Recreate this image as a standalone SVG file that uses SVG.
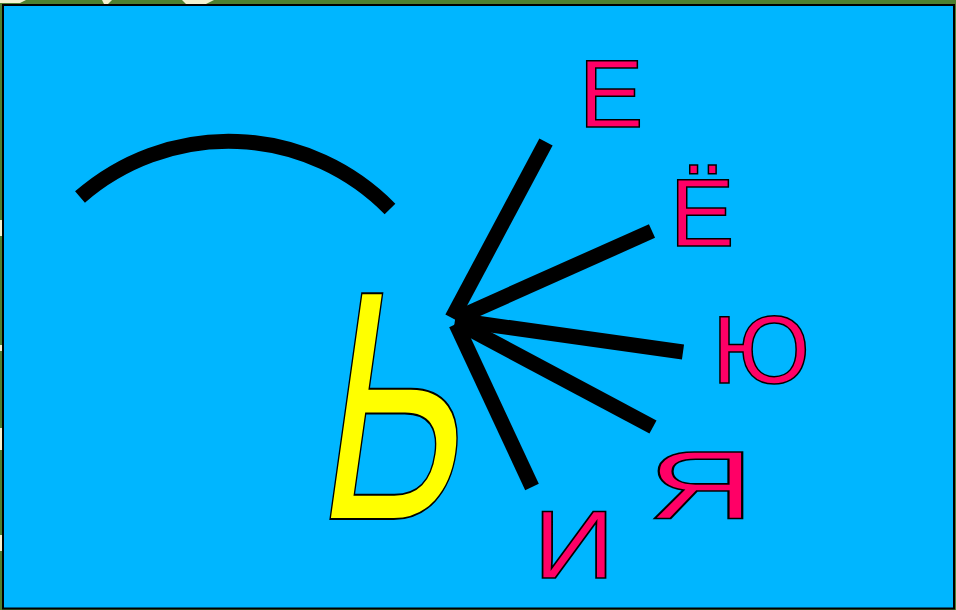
<svg xmlns="http://www.w3.org/2000/svg" width="956" height="610" viewBox="0 0 956 610">
<style>
.l{font-family:"Liberation Sans",Arial,sans-serif;fill:#FF0066;stroke:#000;stroke-width:1.5;text-anchor:middle}
.ray{stroke:#000;stroke-width:15;fill:none}
</style>
<rect x="0" y="0" width="956" height="610" fill="#4E8030"/>
<g fill="#F3F1CF">
<path d="M0,0 H26 L20,3 H0 Z"/>
<path d="M102,0 H112 L108,4 H104 Z"/>
<path d="M182,0 H214 L206,4 H186 Z"/>
<rect x="0" y="220" width="2" height="16"/>
<rect x="0" y="345" width="2" height="6"/>
<rect x="0" y="428" width="2" height="22"/>
<rect x="0" y="535" width="2" height="16"/>
</g>
<rect x="3" y="5" width="951" height="603.5" fill="#00B6FF" stroke="#000" stroke-width="2"/>
<g id="arc"><path class="ray" d="M80,197 A226 226 0 0 1 390,209"/></g>
<g id="connectors">
<line class="ray" x1="452" y1="318" x2="546" y2="142"/>
<line class="ray" x1="455" y1="319" x2="652" y2="231"/>
<line class="ray" x1="455" y1="320" x2="683" y2="352"/>
<line class="ray" x1="456" y1="322" x2="653" y2="427"/>
<line class="ray" x1="456" y1="324" x2="532" y2="487"/>
</g>
<g id="soft-sign"><text transform="translate(385,519) skewX(-8) scale(0.68,1)" x="0" y="0" font-family="Liberation Sans, Arial, sans-serif" font-size="328" fill="#FFFF00" stroke="#000" stroke-width="2" text-anchor="middle">Ь</text></g>
<g id="e"><text class="l" x="611" y="127" font-size="97">Е</text></g>
<g id="yo"><text class="l" x="702" y="246" font-size="97">Ё</text></g>
<g id="yu"><text class="l" x="761" y="383" font-size="97">Ю</text></g>
<g id="ya"><text class="l" transform="translate(701,519) scale(1.52,1)" x="0" y="0" font-size="97">Я</text></g>
<g id="i"><text class="l" transform="translate(574,578) scale(1.17,1)" x="0" y="0" font-size="97">И</text></g>
</svg>
